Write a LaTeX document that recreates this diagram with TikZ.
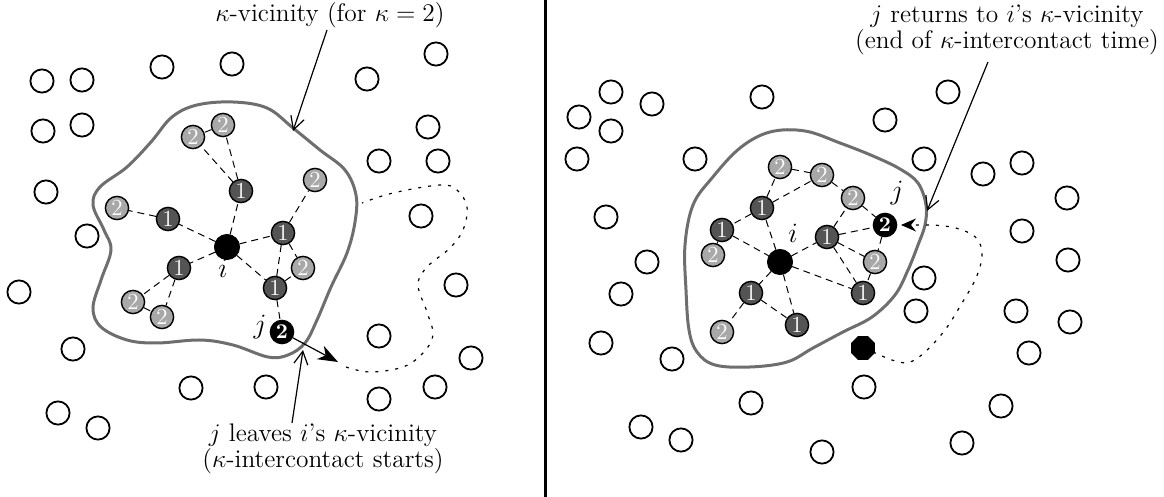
\RequirePackage{fix-cm}
\documentclass[tikz,border=0pt]{standalone}
\usetikzlibrary{arrows.meta,shapes.geometric}
\definecolor{dk}{gray}{0.33}
\definecolor{lt}{gray}{0.66}
\definecolor{cg}{gray}{0.43}
\begin{document}
\begin{tikzpicture}[x=0.5pt,y=-0.5pt,
  wnode/.style={circle,draw,line width=0.9pt,minimum size=11.6pt,inner sep=0pt},
  onenode/.style={circle,draw,line width=0.7pt,fill=dk,text=white,minimum size=11.6pt,inner sep=0pt,font=\fontsize{11.5}{11.5}\selectfont},
  twonode/.style={onenode,fill=lt},
  hub/.style={circle,draw,fill=black,minimum size=12.6pt,inner sep=0pt},
  jnode/.style={onenode,fill=black,font=\fontsize{10.5}{10.5}\selectfont\bfseries},
  hexa/.style={regular polygon,regular polygon sides=8,fill=black,draw,minimum size=12.4pt,inner sep=0pt},
  link/.style={dash pattern=on 3.5pt off 2.5pt,line width=0.5pt},
  contour/.style={draw=cg,line width=1.5pt},
  track/.style={dash pattern=on 1.5pt off 3.5pt,line width=0.6pt},
  lbl/.style={font=\fontsize{12.7}{12}\selectfont,align=center,inner sep=0pt},
  nlbl/.style={font=\fontsize{14}{14}\selectfont,inner sep=0pt},
  barb/.style={-{Straight Barb[length=6.5pt,width=7pt]},line width=0.6pt},
  mover/.style={-{Stealth[length=10pt,width=7.5pt,inset=3pt]},line width=0.6pt}]
\useasboundingbox (0,0) rectangle (1164,497);

% separator
\draw[line width=1.5pt] (545,0) -- (545,497);

% ---------------- left panel ----------------
\foreach \x/\y [count=\k] in {42/81,82/80,162/67,232/64,367/79,436/54,43/131,82/125,428/127,379/161,438/161,46/192,421/216,87/236,19/292,456/285,73/349,379/336,471/358,191/388,266/387,435/387,379/399,58/413,98/428}
  \node[wnode] (Lw\k) at (\x,\y) {};

\draw[contour] plot[smooth cycle,tension=0.6] coordinates {(172,117) (197,105) (233,102) (267,108) (293,128) (320,150) (345,170) (356,195) (355,222) (347,253) (331,287) (317,320) (305,343) (288,355) (268,357) (233,345) (200,340) (157,343) (127,340) (101,327) (93,308) (101,280) (111,250) (104,230) (93,205) (100,187) (127,167) (151,142)};

\node[hub] (Li) at (227,247) {};
\node[onenode] (L1a) at (241,191) {1};
\node[twonode] (L2a) at (223,125) {2};
\node[twonode] (L2b) at (193,137) {2};
\node[onenode] (L1b) at (168,219) {1};
\node[twonode] (L2c) at (117,208) {2};
\node[onenode] (L1c) at (179,268) {1};
\node[twonode] (L2d) at (133,302) {2};
\node[twonode] (L2e) at (162,317) {2};
\node[onenode] (L1d) at (283,233) {1};
\node[twonode] (L2f) at (315,180) {2};
\node[twonode] (L2g) at (303,268) {2};
\node[onenode] (L1e) at (275,288) {1};
\node[jnode] (Lj) at (282,332) {2};
\node[nlbl] (Lil) at (223,268) {$i$};
\node[nlbl] (Ljl) at (260,327) {$j$};

\foreach \a/\b in {Li/L1a,L1a/L2a,L1a/L2b,L2a/L2b,Li/L1b,L1b/L2c,Li/L1c,L1c/L2d,L1c/L2e,L2d/L2e,Li/L1d,L1d/L2f,L1d/L2g,L1d/L1e,L1e/L2g,Li/L1e,L1e/Lj}
  \draw[link] (\a) -- (\b);

\coordinate (Ltip) at (338,362);
\draw[mover] (Lj) -- (Ltip);
\draw[track] plot[smooth,tension=0.6] coordinates {(346,367) (370,372) (403,367) (423,353) (433,335) (427,312) (418,285) (427,267) (450,248) (463,230) (467,207) (457,190) (440,185) (393,193) (362,203)};

\node[lbl] (Ltop) at (330,15) {$\kappa$-vicinity (for $\kappa = 2$)};
\coordinate (Lta) at (327,30);
\coordinate (Ltb) at (293,131);
\draw[barb] (Lta) -- (Ltb);

\node[lbl] (Lbot) at (323,449) {$j$ leaves $i$'s $\kappa$-vicinity\\($\kappa$-intercontact starts)};
\coordinate (Lba) at (292,423);
\coordinate (Lbb) at (303,350);
\draw[barb] (Lba) -- (Lbb);

% ---------------- right panel ----------------
\foreach \x/\y [count=\k] in {611/92,652/104,762/97,579/117,611/131,577/159,695/159,606/217,647/262,621/294,601/343,672/359,641/427,681/440,751/403,822/452,864/387,948/92,885/120,924/159,983/174,1022/163,1067/198,1022/231,1068/260,924/278,916/311,1016/311,1070/322,1029/353,1001/406,962/443}
  \node[wnode] (Rw\k) at (\x,\y) {};

\draw[contour] plot[smooth cycle,tension=0.6] coordinates {(770,132) (805,131) (840,143) (873,156) (900,169) (918,183) (926,205) (925,225) (918,245) (908,270) (895,295) (872,317) (843,332) (813,348) (787,362) (750,367) (715,365) (697,352) (689,330) (686,290) (685,245) (693,205) (712,178) (740,148)};

\node[hub] (Ri) at (780,262) {};
\node[onenode] (RA) at (762,208) {1};
\node[twonode] (RB) at (780,167) {2};
\node[twonode] (RC) at (822,175) {2};
\node[twonode] (RD) at (853,198) {2};
\node[jnode] (Rj) at (885,225) {2};
\node[onenode] (RE) at (827,237) {1};
\node[twonode] (RF) at (875,262) {2};
\node[onenode] (RG) at (863,293) {1};
\node[onenode] (RH) at (722,230) {1};
\node[twonode] (RI) at (713,255) {2};
\node[onenode] (RK) at (751,293) {1};
\node[twonode] (RL) at (722,332) {2};
\node[onenode] (RM) at (797,325) {1};
\node[nlbl] (Ril) at (793,233) {$i$};
\node[nlbl] (Rjl) at (897,193) {$j$};

\foreach \a/\b in {Ri/RA,RA/RB,RA/RC,RB/RC,RC/RD,RD/Rj,RA/RH,RH/RI,RH/Ri,Ri/RE,RE/RD,RE/Rj,RE/RF,RE/RG,Rj/RF,RF/RG,Ri/RG,Ri/RK,RK/RL,RK/RM,Ri/RM}
  \draw[link] (\a) -- (\b);

\node[hexa] (Rh) at (863,348) {};
\coordinate (Rtip) at (901,225);
\draw[track,-{Stealth[length=7.5pt,width=6.5pt,inset=2.5pt]}] plot[smooth,tension=0.6] coordinates {(873,352) (895,361) (910,362) (925,352) (945,330) (962,303) (976,278) (982,256) (978,240) (965,231) (945,226) (923,225)} -- (Rtip);

\node[lbl] (Rtop) at (1007,30) {$j$ returns to $i$'s $\kappa$-vicinity\\(end of $\kappa$-intercontact time)};
\coordinate (Rta) at (988,62);
\coordinate (Rtb) at (927,211);
\draw[barb] (Rta) -- (Rtb);
\end{tikzpicture}
\end{document}
